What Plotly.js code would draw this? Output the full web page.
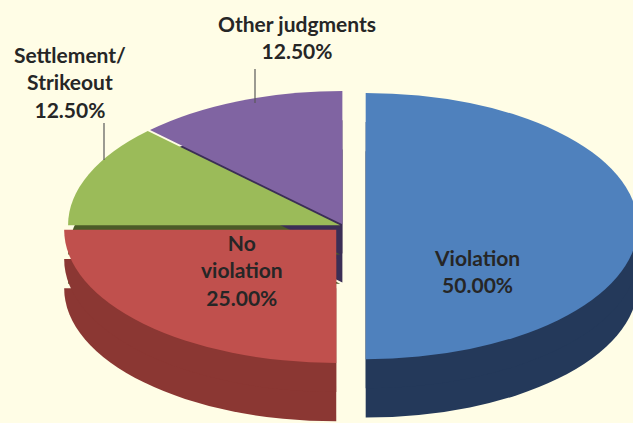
<!DOCTYPE html>
<html>
<head>
<meta charset="utf-8">
<script src="https://cdn.plot.ly/plotly-3.0.1.min.js"></script>
<style>html,body{margin:0;padding:0;background:#FFFDE6;overflow:hidden;}#chart{width:633px;height:423px;}</style>
</head>
<body>
<div id="chart"></div>
<script>
// ---- data ----
const categories = ['Violation', 'No violation', 'Settlement/Strikeout', 'Other judgments'];
const labelLines = ['Violation', 'No<br>violation', 'Settlement/<br>Strikeout', 'Other judgments'];
const shares = [50, 25, 12.5, 12.5];

// ---- styles ----
const faceColors = ['#4F81BD', '#C0504D', '#9BBB59', '#8064A2'];
const sideColors = ['#24395A', '#8B3733', '#4B5B28', '#3B2E55'];
const pulls = [0.08, 0.04, 0.015, 0.015];

const W = 633, H = 423;
const CX = 344, CY = 226;          // face centre (px)
const SX = 2.473, SY = 1.21;       // ellipse stretch applied to the pie layer
const xDom = [0.2934, 0.7934];
const faceY = [0.1848, 0.7466];
const depthStep = 0.0571;          // paper fraction per side layer

function pieTrace(colors, yShift, hover) {
  return {
    type: 'pie',
    labels: categories,
    values: shares,
    sort: false,
    direction: 'clockwise',
    rotation: 0,
    pull: pulls,
    marker: {colors: colors, line: {width: 0}},
    textinfo: 'none',
    hoverinfo: hover ? 'label+percent' : 'skip',
    showlegend: false,
    domain: {x: xDom, y: [faceY[0] - yShift, faceY[1] - yShift]}
  };
}

const traces = [
  pieTrace(sideColors, 2 * depthStep, false),
  pieTrace(sideColors, depthStep, false),
  pieTrace(faceColors, 0, true)
];

const total = shares.reduce((a, b) => a + b, 0);
const pct = i => (shares[i] / total * 100).toFixed(2) + '%';

// label positions (px) for each category
const labelPos = [[477, 271], [242, 270], [70, 82], [297, 37]];
const px = (x, y) => ({x: x / W, y: 1 - y / H});

const annotations = categories.map((c, i) => {
  const p = px(labelPos[i][0], labelPos[i][1]);
  return {
    xref: 'paper', yref: 'paper', x: p.x, y: p.y,
    xanchor: 'center', yanchor: 'middle',
    text: labelLines[i] + '<br>' + pct(i),
    showarrow: false,
    align: 'center',
    font: {family: 'Lato, "Open Sans", sans-serif', size: 21, color: '#262626', weight: 'bold'}
  };
});

// leader lines for outside labels
const leaders = [[104, 123, 104, 160], [255, 69, 255, 103]];
const shapes = leaders.map(l => {
  const a = px(l[0], l[1]), b = px(l[2], l[3]);
  return {type: 'line', xref: 'paper', yref: 'paper', x0: a.x, y0: a.y, x1: b.x, y1: b.y,
          line: {color: '#595959', width: 1.2}};
});

const layout = {
  width: W,
  height: H,
  margin: {l: 0, r: 0, t: 0, b: 0},
  paper_bgcolor: '#FFFDE6',
  plot_bgcolor: '#FFFDE6',
  showlegend: false,
  annotations: annotations,
  shapes: shapes
};

Plotly.newPlot('chart', traces, layout, {displayModeBar: false, staticPlot: true}).then(gd => {
  const layer = gd.querySelector('.pielayer');
  if (layer) {
    layer.setAttribute('transform',
      'translate(' + CX + ',' + CY + ') scale(' + SX + ',' + SY + ') translate(' + (-CX) + ',' + (-CY) + ')');
  }
});
</script>
</body>
</html>
